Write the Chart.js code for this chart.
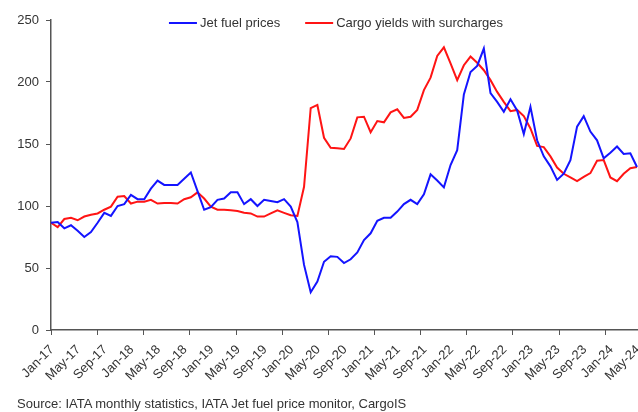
<!DOCTYPE html>
<html>
<head>
<meta charset="utf-8">
<title>Jet fuel prices vs cargo yields</title>
<script src="https://cdn.jsdelivr.net/npm/chart.js@4.4.1/dist/chart.umd.min.js"></script>
<style>
  html, body { margin: 0; padding: 0; background: #fff; }
  #wrap { position: relative; width: 638px; height: 412px; }
  #fuelChart { display: block; }
  #source {
    position: absolute; left: 17px; top: 396px;
    font: 13px "Liberation Sans", Arial, sans-serif; color: #333; white-space: nowrap;
  }
</style>
</head>
<body>
<div id="wrap">
  <canvas id="fuelChart" width="638" height="412"></canvas>
  <div id="source">Source: IATA monthly statistics, IATA Jet fuel price monitor, CargoIS</div>
</div>
<script>
// Index values, Jan-17 = ~86, monthly to May-24
const monthNames = ['Jan', 'Feb', 'Mar', 'Apr', 'May', 'Jun', 'Jul', 'Aug', 'Sep', 'Oct', 'Nov', 'Dec'];
const firstYear = 17;
const monthCount = 89;

const jetFuel = [
    86.5, 87, 82, 84.5, 80, 75, 79, 86.5, 94.5, 92, 100, 101.5,        // 2017
    109, 105.5, 105.5, 114, 120.5, 117, 117, 117, 122, 127, 112, 97,   // 2018
    99, 105, 106, 111, 111, 101.5, 105.5, 100, 105, 104, 103, 105.5,   // 2019
    99.5, 87, 52.5, 30.5, 39, 55, 59.5, 59, 54, 57, 62.5, 72.5,        // 2020
    78, 88, 90.5, 90.5, 95.5, 101.5, 105, 101.5, 109.5, 125.5, 120.5, 115, // 2021
    133, 145, 190, 208, 213, 227, 191, 184, 176, 186, 177, 158,        // 2022
    180, 153, 140, 132, 121, 126, 137, 164, 172.5, 160, 153, 138.5,    // 2023
    143, 148, 142, 142.5, 131.5                                        // 2024
];

const cargoYields = [
    86.5, 83, 89.5, 90.5, 88.5, 91.5, 93, 94, 97, 99.5, 107.5, 108,
    102, 103.5, 103.5, 105, 102, 102.5, 102.5, 102, 105.5, 107, 111, 106,
    99.5, 97, 97, 96.5, 96, 94.5, 94, 91.5, 91.5, 94, 96.5, 94.5,
    92.5, 92, 115.5, 179, 181.5, 155, 147, 146.5, 146, 154.5, 171.5, 172,
    159.5, 168.5, 167.5, 175.5, 178, 171, 172, 177.5, 193.5, 203.5, 221, 228,
    215, 201.5, 213.5, 220.5, 215.5, 209.5, 201.5, 192, 184, 176.5, 177.5, 172.5,
    162.5, 148.5, 147.5, 140, 131, 126, 123, 120, 123.5, 126.5, 136.5, 137,
    123, 120, 126, 130.5, 131.5
];

const yTicks = [0, 50, 100, 150, 200, 250];

const months = [];
for (let i = 0; i < monthCount; i++) {
    months.push(monthNames[i % 12] + '-' + (firstYear + Math.floor(i / 12)));
}

const fontFamily = '"Liberation Sans", Arial, sans-serif';
const axisColor = '#555';

// legend sits inside the plot, along its top edge
const insideLegend = {
    id: 'insideLegend',
    afterDraw(chart) {
        const ctx = chart.ctx;
        const area = chart.chartArea;
        ctx.save();
        ctx.font = '13px ' + fontFamily;
        ctx.textBaseline = 'middle';
        const lineLen = 28, gap = 3, itemGap = 25;
        const items = chart.data.datasets.map(ds => ({
            text: ds.label,
            color: ds.borderColor,
            w: lineLen + gap + ctx.measureText(ds.label).width
        }));
        const total = items.reduce((s, it) => s + it.w, 0) + itemGap * (items.length - 1);
        let x = (area.left + area.right) / 2 - 8 - total / 2;
        const y = area.top + 3;
        items.forEach(it => {
            ctx.strokeStyle = it.color;
            ctx.lineWidth = 2;
            ctx.beginPath();
            ctx.moveTo(x, y);
            ctx.lineTo(x + lineLen, y);
            ctx.stroke();
            ctx.fillStyle = '#333';
            ctx.fillText(it.text, x + lineLen + gap, y);
            x += it.w + itemGap;
        });
        ctx.restore();
    }
};

// x-axis tick marks are spaced independently of the labels in the original
const xTickMarks = {
    id: 'xTickMarks',
    afterDraw(chart) {
        const scale = chart.scales.x;
        const ctx = chart.ctx;
        ctx.save();
        ctx.strokeStyle = axisColor;
        ctx.lineWidth = 1;
        for (let v = 0; v <= monthCount - 1; v += 6.93) {
            const px = Math.round(scale.getPixelForValue(v)) + 0.5;
            ctx.beginPath();
            ctx.moveTo(px, scale.top);
            ctx.lineTo(px, scale.top + 5);
            ctx.stroke();
        }
        ctx.restore();
    }
};

new Chart(document.getElementById('fuelChart'), {
    type: 'line',
    data: {
        labels: months,
        datasets: [
            {
                label: 'Jet fuel prices',
                data: jetFuel,
                borderColor: 'rgb(20, 20, 255)',
                borderWidth: 2,
                pointRadius: 0,
                tension: 0
            },
            {
                label: 'Cargo yields with surcharges',
                data: cargoYields,
                borderColor: 'rgb(255, 20, 20)',
                borderWidth: 2,
                pointRadius: 0,
                tension: 0
            }
        ]
    },
    options: {
        responsive: false,
        animation: false,
        layout: { padding: { top: 20, right: 1, left: 0, bottom: 0 } },
        plugins: {
            legend: { display: false },
            tooltip: { enabled: false }
        },
        scales: {
            x: {
                offset: false,
                afterFit(scale) {
                    scale.height = 82;
                    scale.paddingRight = 0;
                },
                grid: { drawOnChartArea: false, tickColor: 'transparent', tickLength: 5 },
                border: { color: axisColor, width: 1.5 },
                ticks: {
                    autoSkip: false,
                    minRotation: 45,
                    maxRotation: 45,
                    padding: 7,
                    labelOffset: 1,
                    color: '#333',
                    font: { family: fontFamily, size: 13 },
                    callback: function(value, index) {
                        return index % 4 === 0 ? months[index] : null;
                    }
                }
            },
            y: {
                min: 0,
                max: 250,
                afterFit(scale) { scale.width = 51; },
                afterBuildTicks(scale) {
                    scale.ticks = yTicks.map(v => ({ value: v }));
                },
                grid: { drawOnChartArea: false, tickColor: axisColor, tickLength: 5 },
                border: { color: axisColor, width: 1.5 },
                ticks: {
                    padding: 7,
                    color: '#333',
                    font: { family: fontFamily, size: 13 }
                }
            }
        }
    },
    plugins: [insideLegend, xTickMarks]
});
</script>
</body>
</html>
